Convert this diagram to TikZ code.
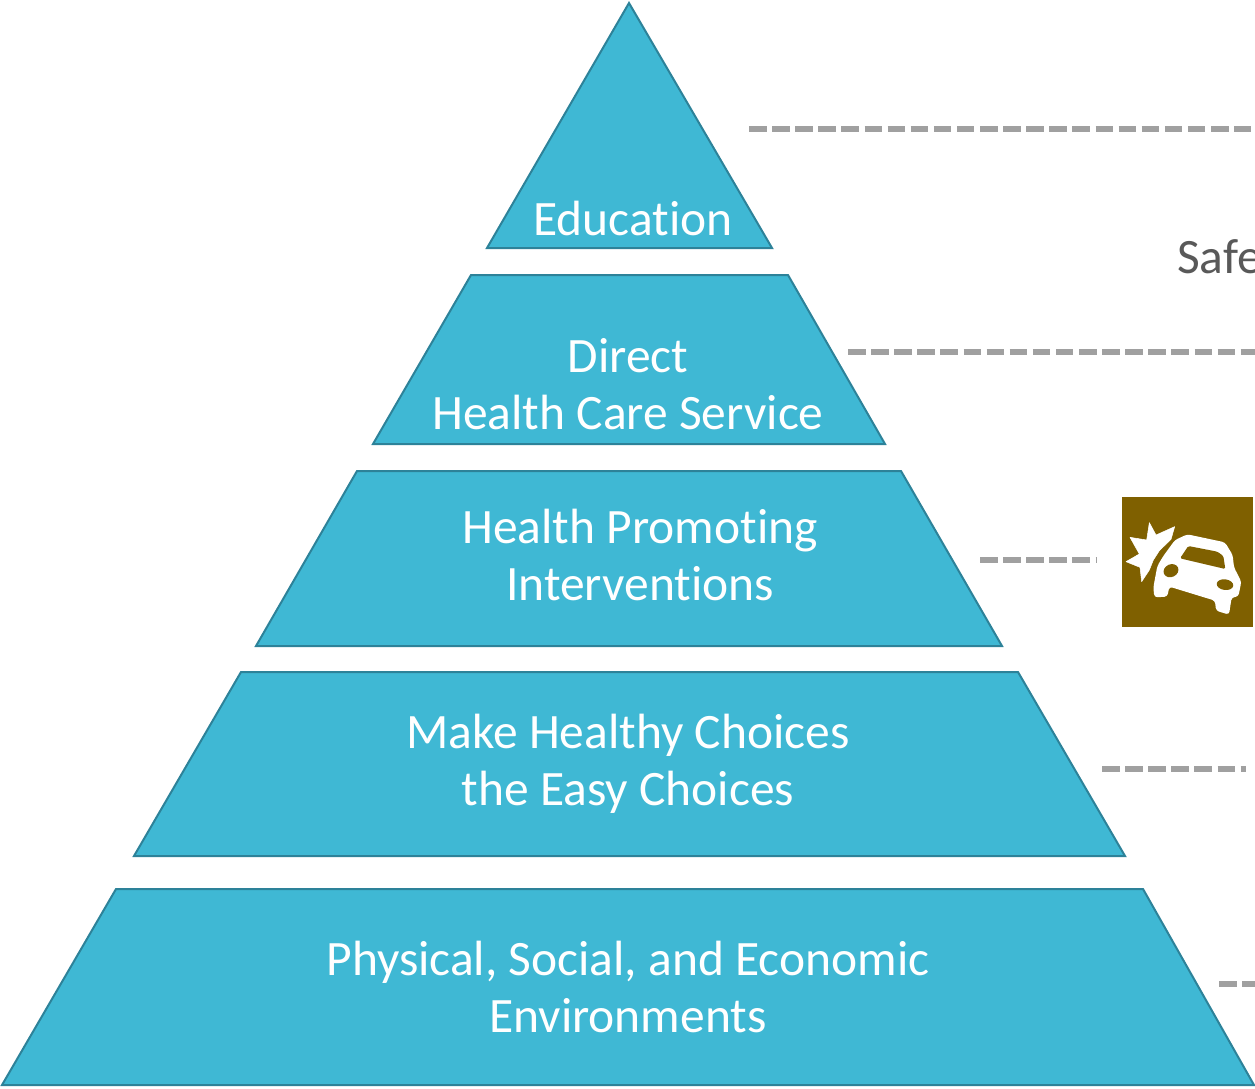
\documentclass[tikz,border=0pt]{standalone}
\usepackage{fontspec}
\setmainfont[Ligatures=NoCommon]{Carlito}
\definecolor{tierfill}{HTML}{3FB8D4}
\definecolor{tieredge}{HTML}{2D8299}
\definecolor{leadergray}{HTML}{A0A0A0}
\definecolor{iconbrown}{HTML}{7F6000}
\definecolor{safegray}{HTML}{595959}
\tikzset{
    tier/.style={fill=tierfill, draw=tieredge, line width=2pt, line join=miter},
    tierlabel/.style={text=white, font=\fontsize{49.5}{57.5}\selectfont, align=center, inner sep=0pt},
    leader/.style={draw=leadergray, line width=5.5pt, dash pattern=on 17.5pt off 5.6pt},
}
\begin{document}
\begin{tikzpicture}[x=1pt, y=-1pt]
    \useasboundingbox (0, 0) rectangle (1255, 1088);

    % pyramid
    \draw[tier] (629, 3) -- (772, 248) -- (487, 248) -- cycle;
    \draw[tier] (471, 275) -- (788, 275) -- (885, 444) -- (373, 444) -- cycle;
    \draw[tier] (357, 471) -- (901, 471) -- (1002, 646) -- (256, 646) -- cycle;
    \draw[tier] (241, 672) -- (1018, 672) -- (1125, 856) -- (134, 856) -- cycle;
    \draw[tier] (116, 889) -- (1143, 889) -- (1254, 1085) -- (2, 1085) -- cycle;

    \node[tierlabel] (education) at (633, 218) {Education};
    \node[tierlabel] (care) at (628, 384) {Direct\\Health Care Service};
    \node[tierlabel] (promoting) at (640, 555) {Health Promoting\\Interventions};
    \node[tierlabel] (choices) at (628, 764) {Make Healthy Choices\\the Easy Choices};
    \node[tierlabel] (environments) at (628, 987) {Physical, Social, and Economic\\Environments};

    % leaders
    \foreach \name/\xa/\xb/\y in {one/749/1251/129, two/848/1255/352, three/980/1096/560, four/1102/1246/769, five/1219/1255/984} {
        \coordinate (\name a) at (\xa, \y);
        \coordinate (\name b) at (\xb, \y);
        \draw[leader] (\name a) -- (\name b);
    }

    % cut off at the page edge
    \begin{scope}
        \clip (1100, 200) rectangle (1255, 300);
        \node[anchor=base west, inner sep=0pt, text=safegray, font=\fontsize{49.5}{50}\selectfont] (safe) at (1177, 273) {Safe};
    \end{scope}

    % crash icon
    \fill[iconbrown] (1122, 497) rectangle (1253, 627);
    \begin{scope}[shift={(1100, 480)}, x=0.3333pt, y=-0.3333pt]
        \fill[white, draw=white, line width=0.5pt, line join=round] (148, 128) -- (168, 165) -- (224, 140) -- (213, 178) -- (178, 212) -- (160, 240) -- (148, 270) -- (125, 305) -- (120, 262) -- (78, 245) -- (118, 222) -- (90, 172) -- (140, 180) -- cycle;
        \fill[white, rounded corners=3pt] (262, 163) -- (375, 187) -- (398, 225) -- (402, 262) -- (424, 305) -- (415, 350) -- (395, 352) -- (387, 404) -- (348, 392) -- (345, 362) -- (208, 320) -- (202, 350) -- (163, 352) -- (160, 322) -- (172, 258) -- (190, 228) -- (225, 180) -- cycle;
        \fill[iconbrown, rounded corners=1.5pt] (240, 235) -- (265, 198) -- (352, 215) -- (370, 228) -- (376, 267) -- cycle;
        \fill[iconbrown, rotate around={25:(213, 272)}] (213, 272) ellipse (23 and 19);
        \fill[iconbrown, rotate around={-8:(375, 314)}] (375, 314) ellipse (25 and 16);
    \end{scope}
\end{tikzpicture}
\end{document}
